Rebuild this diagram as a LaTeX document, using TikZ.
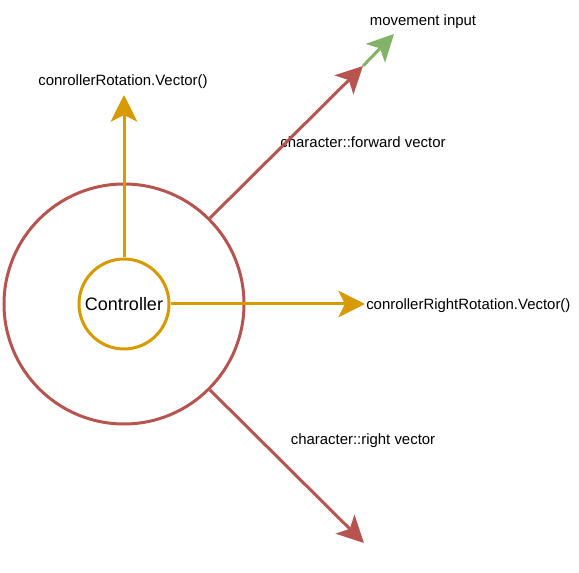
\documentclass[tikz,border=0pt]{standalone}
\usepackage{fontspec}
\setmainfont{Liberation Sans}
\usetikzlibrary{arrows.meta}
\definecolor{ctrlgold}{HTML}{D79B00}
\definecolor{charred}{HTML}{B85450}
\definecolor{inputgreen}{HTML}{82B366}
\tikzset{
    vec/.style = {line width = 2.25pt, -{Stealth[length = 20pt, width = 20pt, inset = 5pt]}},
    lbl/.style = {inner sep = 0pt, font = \fontsize{11.2pt}{13pt}\selectfont}
}
\begin{document}
\begin{tikzpicture}[x = 0.75pt, y = -0.75pt]
        \useasboundingbox (0,0) rectangle (579,573);
        %Character
        \node [draw = charred, line width = 2.25pt, circle, minimum size = 180pt]
        (char)at(124,304){};
        %Controller
        \node [draw = ctrlgold, line width = 2.25pt, circle, inner sep = 0pt, minimum size = 67.5pt,
        font = \fontsize{13.5pt}{16pt}\selectfont]
        (ctrl)at(124,304){Controller};

        %Vector ends
        \coordinate (rotEnd)at(124,95);
        \coordinate (rightRotEnd)at(365,304);
        \coordinate (fwdEnd)at(363,66);
        \coordinate (moveEnd)at(394,34);
        \coordinate (rightEnd)at(364,543);

        %Labels
        \node [lbl] (rotLbl)at(123,82){conrollerRotation.Vector()};
        \node [lbl, anchor = west] (rightRotLbl)at(366,306){conrollerRightRotation.Vector()};
        \node [lbl] (fwdLbl)at(363,142){character::forward vector};
        \node [lbl] (moveLbl)at(423,22){movement input};
        \node [lbl] (rightLbl)at(363,441){character::right vector};

        \draw [vec, draw = ctrlgold, fill = ctrlgold](ctrl.north)--(rotEnd);
        \draw [vec, draw = ctrlgold, fill = ctrlgold](ctrl.east)--(rightRotEnd);
        \draw [vec, draw = charred, fill = charred](char.45)--(fwdEnd);
        \draw [vec, draw = charred, fill = charred](char.-45)--(rightEnd);
        \draw [vec, draw = inputgreen, fill = inputgreen](fwdEnd)--(moveEnd);

    \end{tikzpicture}
\end{document}
